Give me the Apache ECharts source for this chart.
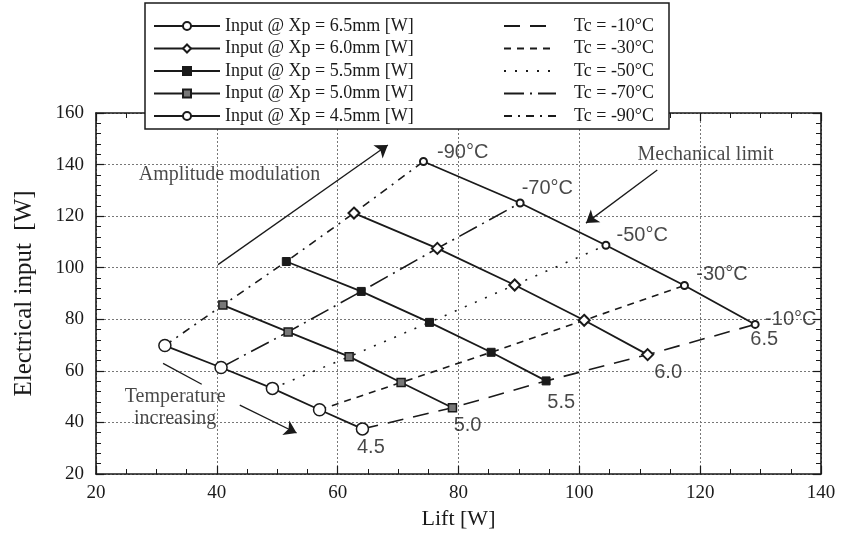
<!DOCTYPE html>
<html><head><meta charset="utf-8">
<script src="https://cdn.jsdelivr.net/npm/echarts/dist/echarts.min.js"></script>
<style>html,body{margin:0;padding:0;background:#fff}#c{width:841px;height:537px}</style>
</head><body><div id="c"></div>
<script>
// ---- data ----
// points ordered Tc = -90, -70, -50, -30, -10 °C
const lift65  = [74.2, 90.2, 104.4, 117.4, 129.1];
const input65 = [141.2, 125.1, 108.7, 93.1, 78.0];
const lift60  = [62.7, 76.5, 89.3, 100.8, 111.3];
const input60 = [121.2, 107.5, 93.3, 79.6, 66.3];
const lift55  = [51.5, 63.9, 75.2, 85.4, 94.5];
const input55 = [102.4, 90.8, 78.8, 67.2, 56.1];
const lift50  = [41.0, 51.8, 61.9, 70.5, 79.0];
const input50 = [85.5, 75.1, 65.5, 55.5, 45.7];
const lift45  = [31.4, 40.7, 49.2, 57.0, 64.1];
const input45 = [69.8, 61.3, 53.2, 44.9, 37.5];

const xpNames = ['Input @ Xp = 6.5mm [W]','Input @ Xp = 6.0mm [W]','Input @ Xp = 5.5mm [W]','Input @ Xp = 5.0mm [W]','Input @ Xp = 4.5mm [W]'];
const tcNames = ['Tc = -90°C','Tc = -70°C','Tc = -50°C','Tc = -30°C','Tc = -10°C'];
const tcLegendOrder = ['Tc = -10°C','Tc = -30°C','Tc = -50°C','Tc = -70°C','Tc = -90°C'];
const xTicks = [20, 40, 60, 80, 100, 120, 140];
const yTicks = [20, 40, 60, 80, 100, 120, 140, 160];

// annotation texts and their anchor points (data coordinates)
const tempTexts = ['-90°C','-70°C','-50°C','-30°C','-10°C','6.5','6.0','5.5','5.0','4.5'];
const tempAnchors = [[80.7,144.5],[94.7,130.6],[110.4,112.4],[123.6,97.3],[135.0,79.9],
                     [130.6,72.2],[114.7,59.4],[97.0,47.8],[81.5,38.9],[65.5,30.4]];
const noteTexts = ['Amplitude modulation','Mechanical limit','Temperature\nincreasing'];
const noteAnchors = [[42.1,136.0],[120.9,143.7],[33.1,45.5]];
const arrows = [ // [from, to, hasHead]
  [[40.2,101.2],[68.3,147.6],true],
  [[112.9,137.9],[101.1,117.3],true],
  [[31.1,62.9],[37.5,54.8],false],
  [[43.8,46.7],[53.2,35.9],true]
];

// ---- styles ----
const INK = '#1a1a1a';
const SERIF = '"Liberation Serif","Times New Roman",serif';
const SANS = '"Liberation Sans",Arial,sans-serif';
const xpSets = [[lift65,input65],[lift60,input60],[lift55,input55],[lift50,input50],[lift45,input45]];
const xpMarkers = [
  {symbol:'circle', size:7, fill:'#fff', bw:2},
  {symbol:'diamond', size:11, fill:'#fff', bw:2},
  {symbol:'rect', size:8, fill:INK, bw:1},
  {symbol:'rect', size:8, fill:'#777', bw:1.5},
  {symbol:'circle', size:12, fill:'#fff', bw:1.5}
];
const tcDash = [[8,6,2,6],[20,6,2,6],[2,9],[7,6],[16,10]];

const series = [];
// Tc lines (connect same-temperature points across Xp, 4.5 -> 6.5)
tcNames.forEach((name, j) => {
  const pts = xpSets.slice().reverse().map(s => [s[0][j], s[1][j]]);
  series.push({
    name, type:'line', data: pts, symbol:'none', z:2, silent:true,
    lineStyle:{color:INK, width:1.6, type: tcDash[j]}, itemStyle:{color:INK}
  });
});
// Xp lines
xpNames.forEach((name, k) => {
  const s = xpSets[k], m = xpMarkers[k];
  series.push({
    name, type:'line', z:3, silent:true,
    data: s[0].map((x,i)=>[x, s[1][i]]),
    symbol: m.symbol, symbolSize: m.size, showSymbol:true,
    lineStyle:{color:INK, width:1.8, type:'solid'},
    itemStyle:{color:m.fill, borderColor:INK, borderWidth:m.bw}
  });
});
// annotations
series.push({
  type:'scatter', symbolSize:0, silent:true, z:4,
  data: tempTexts.map((t,i)=>({value:tempAnchors[i], label:{formatter:t}})),
  label:{show:true, position:'inside', color:INK, fontFamily:SANS, fontSize:20}
});
series.push({
  type:'scatter', symbolSize:0, silent:true, z:4,
  data: noteTexts.map((t,i)=>({value:noteAnchors[i], label:{formatter:t}})),
  label:{show:true, position:'inside', color:INK, fontFamily:SERIF, fontSize:20, lineHeight:22, align:'center'},
  markLine:{
    silent:true, animation:false, symbolSize:12,
    label:{show:false},
    lineStyle:{color:INK, width:1.3, type:'solid'},
    data: arrows.map(a => [
      {coord:a[0], symbol:'none'},
      {coord:a[1], symbol: a[2] ? 'arrow' : 'none'}
    ])
  }
});

const axisLine = {show:true, onZero:false, lineStyle:{color:INK, width:1.6}};
const axisTick = {show:true, inside:true, length:8, lineStyle:{color:INK, width:1.2}};

const option = {
  animation:false,
  backgroundColor:'#fff',
  grid:{left:96, right:20, top:113, bottom:63},
  xAxis:[
    {type:'value', min:xTicks[0], max:xTicks[xTicks.length-1], interval:20, position:'bottom',
      name:'Lift [W]', nameLocation:'middle', nameGap:34,
      nameTextStyle:{fontFamily:SERIF, fontSize:22, color:INK},
      axisLine, axisTick,
      axisLabel:{fontFamily:SERIF, fontSize:19, color:INK, margin:10},
      minorTick:{show:true, splitNumber:4, length:5, lineStyle:{color:INK, width:1}},
      splitLine:{show:true, lineStyle:{color:'#777', width:1, type:[2,2]}}},
    {type:'value', min:xTicks[0], max:xTicks[xTicks.length-1], interval:20, position:'top',
      axisLine, axisTick, axisLabel:{show:false}, splitLine:{show:false},
      minorTick:{show:true, splitNumber:4, length:5, lineStyle:{color:INK, width:1}}}
  ],
  yAxis:[
    {type:'value', min:yTicks[0], max:yTicks[yTicks.length-1], interval:20, position:'left',
      name:'Electrical input  [W]', nameLocation:'middle', nameGap:59,
      nameTextStyle:{fontFamily:SERIF, fontSize:25, color:INK},
      axisLine, axisTick,
      axisLabel:{fontFamily:SERIF, fontSize:19, color:INK, margin:12},
      minorTick:{show:true, splitNumber:5, length:5, lineStyle:{color:INK, width:1}},
      splitLine:{show:true, lineStyle:{color:'#777', width:1, type:[2,2]}}},
    {type:'value', min:yTicks[0], max:yTicks[yTicks.length-1], interval:20, position:'right',
      axisLine, axisTick, axisLabel:{show:false}, splitLine:{show:false},
      minorTick:{show:true, splitNumber:5, length:5, lineStyle:{color:INK, width:1}}}
  ],
  graphic:{elements:[{
    type:'rect', z:50, silent:true,
    shape:{x:145, y:3, width:524, height:126},
    style:{fill:'#fff', stroke:INK, lineWidth:1.5}
  }]},
  legend:[
    {data:xpNames, orient:'vertical', left:153, top:17, padding:0, z:60,
     itemWidth:66, itemHeight:10, itemGap:4.5, selectedMode:false,
     textStyle:{fontFamily:SERIF, fontSize:18, color:INK, lineHeight:16}},
    {data:tcLegendOrder.map(n => ({name:n, itemStyle:{opacity:0, borderWidth:0}})),
     orient:'vertical', left:503, top:17, padding:0, z:60,
     itemWidth:52, itemHeight:10, itemGap:4.5, selectedMode:false,
     textStyle:{fontFamily:SERIF, fontSize:18, color:INK, lineHeight:16, padding:[0,0,0,13]}}
  ],
  series
};
const chart = echarts.init(document.getElementById('c'), null, {renderer:'canvas'});
chart.setOption(option);
</script></body></html>
